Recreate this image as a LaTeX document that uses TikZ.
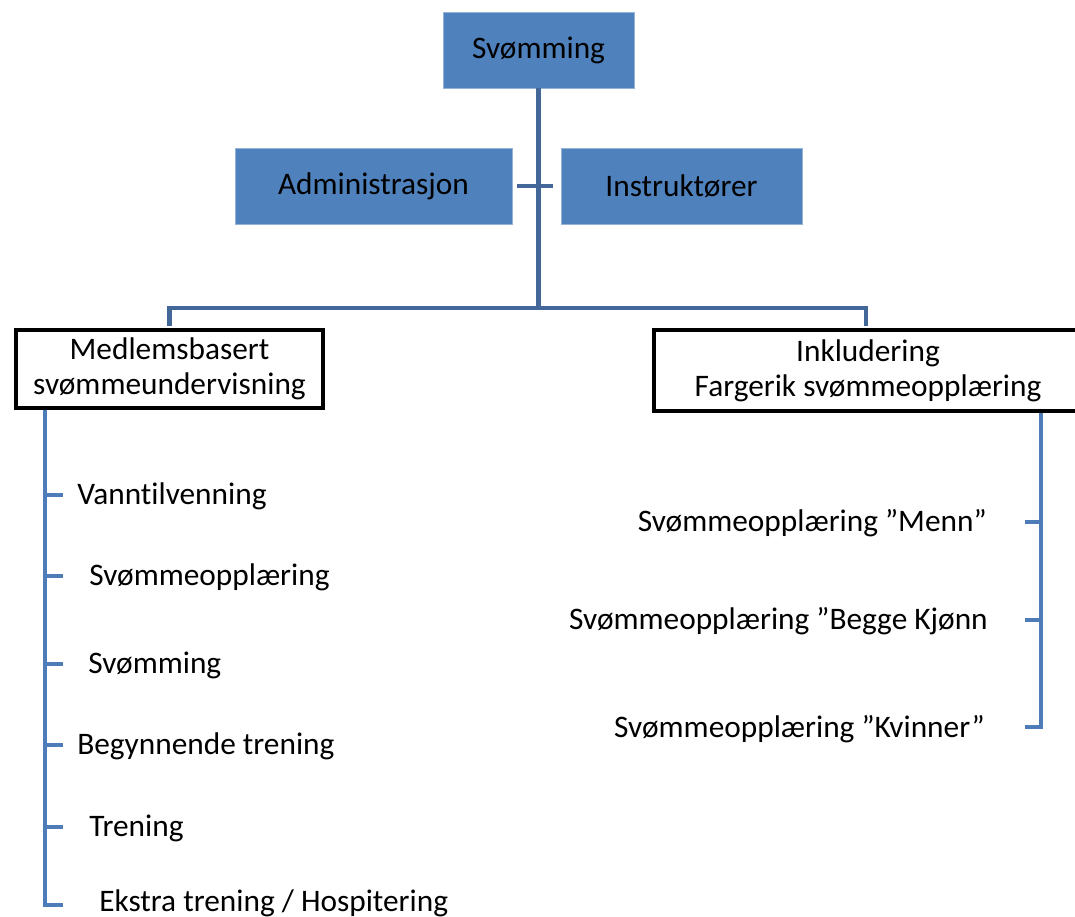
\documentclass[tikz,border=0pt]{standalone}
\usepackage{fontspec}
\setmainfont{Carlito}[RawFeature={-liga}]
\usepackage{tikz}

\definecolor{boxblue}{RGB}{79,129,189}
\definecolor{connblue}{RGB}{66,103,152}
\definecolor{brackblue}{RGB}{78,124,184}

\begin{document}
\begin{tikzpicture}[x=0.75pt,y=-0.75pt,
    bluebox/.style={fill=boxblue, draw=boxblue!60!white, line width=0.6pt, inner sep=0pt,
      minimum height=57pt, font=\fontsize{23.5}{26}\selectfont},
    whitebox/.style={draw=black, fill=white, line width=3pt, inner sep=0pt, align=center,
      font=\fontsize{23.5}{26}\selectfont},
    item/.style={inner sep=0pt, font=\fontsize{23.5}{26}\selectfont},
    conn/.style={draw=connblue, line width=3.6pt},
    bracket/.style={draw=brackblue, line width=3.4pt}]
    \useasboundingbox (0,0) rectangle (1075,917);

    % Boxes at the top
    \node[bluebox, minimum width=143.25pt] (svom) at (538.5,50) {Svømming};
    \node[bluebox, minimum width=207.75pt] (admin) at (373.5,186) {Administrasjon};
    \node[bluebox, minimum width=180.75pt] (instr) at (681.5,186) {Instruktører};

    % Trunk and the little cross between the staff boxes
    \coordinate (split) at (538.5,308);
    \coordinate (crossl) at (517,186);
    \coordinate (crossr) at (553,186);
    \draw[conn] (svom.south) -- (split);
    \draw[conn] (crossl) -- (crossr);

    % The two branches (the right one runs off the page)
    \node[whitebox, minimum width=230.25pt, minimum height=58.5pt] (medlem) at (169.5,369)
      {Medlemsbasert\\svømmeundervisning};
    \node[whitebox, minimum width=360pt, minimum height=60.75pt, anchor=west] (inkl) at (652,370.5)
      {};
    \node[whitebox, draw=none, fill=none] (inkltxt) at (868,370.5)
      {Inkludering\\Fargerik svømmeopplæring};
    \coordinate (rtop) at (866,0);
    \draw[conn, shorten <=1.5pt, shorten >=1.5pt] (medlem.north) |- (split) -| (inkl.north -| rtop);

    % Left list
    \coordinate (lx) at (45,0);
    \coordinate (lb) at (medlem.south west -| lx);
    \coordinate (t1) at (63,495);
    \coordinate (t2) at (63,576);
    \coordinate (t3) at (63,664);
    \coordinate (t4) at (63,745);
    \coordinate (t5) at (63,827);
    \coordinate (t6) at (63,905);
    \draw[bracket] (lb) |- (t6);
    \foreach \i in {1,...,5}
      \draw[bracket] (lb |- t\i) -- (t\i);
    \node[item, anchor=west] (v1) at (77,496) {Vanntilvenning};
    \node[item, anchor=west] (v2) at (89,577) {Svømmeopplæring};
    \node[item, anchor=west] (v3) at (88,665) {Svømming};
    \node[item, anchor=west] (v4) at (77,746) {Begynnende trening};
    \node[item, anchor=west] (v5) at (89,828) {Trening};
    \node[item, anchor=west] (v6) at (99,903) {Ekstra trening / Hospitering};

    % Right list
    \coordinate (rx) at (1041,0);
    \coordinate (rb) at (inkl.south -| rx);
    \coordinate (r1) at (1025,522);
    \coordinate (r2) at (1025,620);
    \coordinate (r3) at (1025,727);
    \draw[bracket] (rb) |- (r3);
    \foreach \i in {1,2}
      \draw[bracket] (rb |- r\i) -- (r\i);
    \node[item, anchor=east] (k1) at (987,523) {Svømmeopplæring ”Menn”};
    \node[item, anchor=east] (k2) at (988,621) {Svømmeopplæring ”Begge Kjønn};
    \node[item, anchor=east] (k3) at (985,729) {Svømmeopplæring ”Kvinner”};
\end{tikzpicture}
\end{document}
